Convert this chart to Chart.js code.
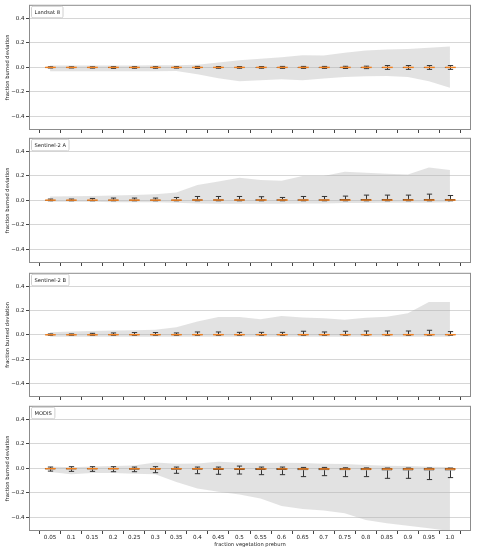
<!DOCTYPE html>
<html>
<head>
<meta charset="utf-8">
<script src="https://cdn.jsdelivr.net/npm/chart.js@4.4.0/dist/chart.umd.min.js"></script>
<style>
  body { margin: 0; background: #fff; }
  #wrap { position: relative; width: 477px; height: 550px; }
  #wrap canvas { position: absolute; left: 0; }
</style>
</head>
<body>
<div id="wrap"></div>
<script>
// categories on the x axis (box positions 1..20)
var categories = ['0.05', '0.1', '0.15', '0.2', '0.25', '0.3', '0.35', '0.4', '0.45', '0.5',
                  '0.55', '0.6', '0.65', '0.7', '0.75', '0.8', '0.85', '0.9', '0.95', '1.0'];
var positions = [1, 2, 3, 4, 5, 6, 7, 8, 9, 10, 11, 12, 13, 14, 15, 16, 17, 18, 19, 20];
var yTicks = [-0.4, -0.2, 0, 0.2, 0.4];

// Landsat 8
var l8Q1  = [-0.003,-0.003,-0.003,-0.004,-0.004,-0.003,-0.003,-0.004,-0.003,-0.003,-0.003,-0.003,-0.003,-0.003,-0.003,-0.004,-0.004,-0.004,-0.004,-0.004];
var l8Med = [0,0,0,0,0,0,0,0,0,0,0,0,0,0,0,0,0,0,0,0];
var l8Q3  = [0.003,0.003,0.003,0.004,0.004,0.003,0.003,0.004,0.003,0.003,0.003,0.003,0.003,0.003,0.003,0.004,0.004,0.004,0.004,0.004];
var l8Lo  = [-0.005,-0.005,-0.006,-0.008,-0.007,-0.007,-0.006,-0.009,-0.007,-0.007,-0.007,-0.008,-0.008,-0.008,-0.009,-0.01,-0.016,-0.016,-0.016,-0.016];
var l8Hi  = [0.005,0.005,0.005,0.006,0.006,0.006,0.006,0.008,0.007,0.007,0.007,0.008,0.008,0.008,0.009,0.01,0.015,0.015,0.015,0.015];
var l8Min = [-0.032,-0.032,-0.032,-0.032,-0.032,-0.032,-0.03,-0.056,-0.088,-0.113,-0.105,-0.097,-0.105,-0.09,-0.078,-0.073,-0.07,-0.078,-0.113,-0.165];
var l8Max = [0.016,0.016,0.016,0.016,0.016,0.017,0.018,0.022,0.04,0.058,0.07,0.083,0.1,0.097,0.12,0.137,0.145,0.15,0.16,0.17];

// Sentinel-2 A
var s2aQ1  = [-0.002,-0.002,-0.002,-0.002,-0.002,-0.002,-0.002,-0.002,-0.002,-0.002,-0.002,-0.002,-0.002,-0.002,-0.002,-0.002,-0.002,-0.002,-0.002,-0.002];
var s2aMed = [0.002,0.002,0.002,0.002,0.002,0.002,0.002,0.003,0.003,0.003,0.003,0.003,0.003,0.003,0.003,0.003,0.003,0.003,0.003,0.003];
var s2aQ3  = [0.006,0.006,0.006,0.007,0.007,0.007,0.008,0.01,0.01,0.01,0.01,0.01,0.01,0.01,0.011,0.012,0.012,0.012,0.012,0.012];
var s2aLo  = [-0.003,-0.003,-0.003,-0.003,-0.003,-0.003,-0.003,-0.003,-0.003,-0.003,-0.003,-0.003,-0.003,-0.003,-0.003,-0.003,-0.003,-0.003,-0.003,-0.003];
var s2aHi  = [0.011,0.011,0.016,0.019,0.019,0.019,0.024,0.032,0.032,0.032,0.03,0.024,0.032,0.032,0.035,0.043,0.043,0.043,0.051,0.04];
var s2aMin = [-0.01,-0.012,-0.012,-0.015,-0.015,-0.015,-0.02,-0.025,-0.028,-0.028,-0.028,-0.028,-0.025,-0.025,-0.022,-0.022,-0.02,-0.02,-0.02,-0.015];
var s2aMax = [0.032,0.033,0.035,0.04,0.045,0.05,0.065,0.125,0.153,0.185,0.167,0.161,0.199,0.199,0.234,0.226,0.218,0.212,0.269,0.247];

// Sentinel-2 B
var s2bQ1  = [-0.002,-0.002,-0.002,-0.002,-0.002,-0.002,-0.002,-0.002,-0.002,-0.002,-0.002,-0.002,-0.002,-0.002,-0.002,-0.002,-0.002,-0.002,-0.002,-0.002];
var s2bMed = [0.001,0.001,0.001,0.002,0.002,0.002,0.002,0.002,0.002,0.002,0.002,0.002,0.002,0.002,0.002,0.002,0.002,0.002,0.002,0.002];
var s2bQ3  = [0.004,0.004,0.004,0.005,0.005,0.005,0.005,0.006,0.006,0.006,0.006,0.006,0.006,0.006,0.006,0.006,0.006,0.006,0.006,0.006];
var s2bLo  = [-0.003,-0.003,-0.003,-0.003,-0.003,-0.003,-0.003,-0.003,-0.003,-0.003,-0.003,-0.003,-0.003,-0.003,-0.003,-0.003,-0.003,-0.003,-0.003,-0.003];
var s2bHi  = [0.008,0.008,0.013,0.016,0.019,0.019,0.016,0.024,0.024,0.021,0.021,0.021,0.03,0.024,0.03,0.032,0.032,0.032,0.038,0.027];
var s2bMin = [-0.015,-0.015,-0.015,-0.015,-0.015,-0.015,-0.015,-0.016,-0.016,-0.016,-0.016,-0.016,-0.016,-0.016,-0.016,-0.016,-0.016,-0.016,-0.016,-0.016];
var s2bMax = [0.022,0.027,0.032,0.036,0.038,0.043,0.062,0.11,0.148,0.146,0.129,0.156,0.142,0.137,0.124,0.14,0.15,0.177,0.271,0.271];

// MODIS
var modQ1  = [-0.008,-0.008,-0.009,-0.009,-0.01,-0.01,-0.011,-0.012,-0.013,-0.013,-0.014,-0.014,-0.015,-0.015,-0.016,-0.016,-0.017,-0.017,-0.018,-0.017];
var modMed = [-0.002,-0.002,-0.002,-0.002,-0.003,-0.003,-0.003,-0.003,-0.004,-0.004,-0.004,-0.004,-0.004,-0.004,-0.005,-0.005,-0.005,-0.005,-0.005,-0.005];
var modQ3  = [0.004,0.004,0.004,0.004,0.004,0.004,0.004,0.004,0.004,0.004,0.004,0.004,0.003,0.003,0.003,0.003,0.003,0.003,0.003,0.003];
var modLo  = [-0.022,-0.024,-0.024,-0.027,-0.027,-0.035,-0.04,-0.043,-0.048,-0.046,-0.051,-0.051,-0.067,-0.059,-0.067,-0.067,-0.081,-0.081,-0.091,-0.075];
var modHi  = [0.011,0.014,0.014,0.014,0.011,0.014,0.011,0.011,0.011,0.019,0.011,0.011,0.008,0.008,0.005,0.004,0.003,0.003,0.003,0.003];
var modMin = [-0.03,-0.048,-0.038,-0.038,-0.043,-0.048,-0.11,-0.164,-0.19,-0.212,-0.245,-0.306,-0.33,-0.344,-0.366,-0.42,-0.446,-0.468,-0.487,-0.51];
var modMax = [0.016,0.01,0.016,0.02,0.024,0.048,0.038,0.04,0.054,0.046,0.043,0.046,0.043,0.038,0.035,0.027,0.022,0.019,0.013,0.011];

var panels = [
  { label: 'Landsat 8',    q1: l8Q1,  med: l8Med,  q3: l8Q3,  lo: l8Lo,  hi: l8Hi,  min: l8Min,  max: l8Max },
  { label: 'Sentinel-2 A', q1: s2aQ1, med: s2aMed, q3: s2aQ3, lo: s2aLo, hi: s2aHi, min: s2aMin, max: s2aMax },
  { label: 'Sentinel-2 B', q1: s2bQ1, med: s2bMed, q3: s2bQ3, lo: s2bLo, hi: s2bHi, min: s2bMin, max: s2bMax },
  { label: 'MODIS',        q1: modQ1, med: modMed, q3: modQ3, lo: modLo, hi: modHi, min: modMin, max: modMax }
];

// canvas placement for the four stacked panels
var canvasTop = [0, 133, 268, 401];
var canvasHeight = [135, 135, 134, 149];

var FONT = '"DejaVu Sans", sans-serif';

// frame round the plot area
var framePlugin = {
  id: 'frame',
  afterDraw: function (chart) {
    var a = chart.chartArea, ctx = chart.ctx;
    ctx.save();
    ctx.strokeStyle = '#8c8c8c';
    ctx.lineWidth = 1;
    ctx.strokeRect(a.left + 0.5, a.top + 0.5, a.right - a.left - 1, a.bottom - a.top - 1);
    ctx.restore();
  }
};

// small text-only legend box in the top-left corner
var tagPlugin = {
  id: 'tag',
  afterDraw: function (chart, args, opts) {
    var a = chart.chartArea, ctx = chart.ctx;
    ctx.save();
    ctx.font = '5.2px ' + FONT;
    var w = ctx.measureText(opts.text).width;
    var x = a.left + 2.5, y = a.top + 1.5;
    ctx.fillStyle = 'rgba(255,255,255,0.85)';
    ctx.strokeStyle = '#d0d0d0';
    ctx.lineWidth = 1;
    ctx.beginPath();
    ctx.roundRect(x, y, w + 6, 11.5, 1.5);
    ctx.fill();
    ctx.stroke();
    ctx.fillStyle = '#222';
    ctx.textBaseline = 'middle';
    ctx.fillText(opts.text, x + 3, y + 6);
    ctx.restore();
  }
};

// whiskers, caps and medians on top of the box bars
var whiskerPlugin = {
  id: 'whiskers',
  afterDatasetsDraw: function (chart, args, opts) {
    var p = opts.panel;
    if (!p) return;
    var meta = chart.getDatasetMeta(2);
    var ys = chart.scales.y, ctx = chart.ctx;
    ctx.save();
    meta.data.forEach(function (bar, i) {
      var x = Math.round(bar.x) + 0.5, w = bar.width;
      var yLo = ys.getPixelForValue(p.lo[i]), yQ1 = ys.getPixelForValue(p.q1[i]);
      var yQ3 = ys.getPixelForValue(p.q3[i]), yHi = ys.getPixelForValue(p.hi[i]);
      ctx.strokeStyle = '#333';
      ctx.lineWidth = 1;
      ctx.beginPath();
      ctx.moveTo(x, yLo); ctx.lineTo(x, yQ1);
      ctx.moveTo(x, yQ3); ctx.lineTo(x, yHi);
      ctx.moveTo(x - w / 4, yLo); ctx.lineTo(x + w / 4, yLo);
      ctx.moveTo(x - w / 4, yHi); ctx.lineTo(x + w / 4, yHi);
      ctx.stroke();
      ctx.strokeStyle = '#f07f1e';
      ctx.lineWidth = 1.4;
      var yMed = ys.getPixelForValue(p.med[i]);
      ctx.beginPath();
      ctx.moveTo(x - w / 2, yMed); ctx.lineTo(x + w / 2, yMed);
      ctx.stroke();
    });
    ctx.restore();
  }
};

function minusFmt(v) {
  var s = v === 0 ? '0.0' : v.toFixed(1);
  return s.replace('-', '\u2212');
}

var wrap = document.getElementById('wrap');

panels.forEach(function (p, k) {
  var last = k === panels.length - 1;
  var canvas = document.createElement('canvas');
  canvas.width = 477;
  canvas.height = canvasHeight[k];
  canvas.style.width = '477px';
  canvas.style.height = canvasHeight[k] + 'px';
  canvas.style.top = canvasTop[k] + 'px';
  wrap.appendChild(canvas);

  new Chart(canvas, {
    type: 'bar',
    data: {
      datasets: [
        {
          type: 'line',
          data: positions.map(function (x, i) { return { x: x, y: p.max[i] }; }),
          borderWidth: 0,
          pointRadius: 0,
          tension: 0,
          fill: '+1',
          backgroundColor: 'rgba(175,175,175,0.36)',
          order: 3
        },
        {
          type: 'line',
          data: positions.map(function (x, i) { return { x: x, y: p.min[i] }; }),
          borderWidth: 0,
          pointRadius: 0,
          tension: 0,
          fill: false,
          order: 3
        },
        {
          type: 'bar',
          data: positions.map(function (x, i) { return { x: x, y: [p.q1[i], p.q3[i]] }; }),
          backgroundColor: 'rgba(232,150,90,0.55)',
          borderColor: '#2a2a2a',
          borderWidth: 1,
          borderSkipped: false,
          barPercentage: 0.5,
          categoryPercentage: 1.0,
          order: 1
        }
      ]
    },
    options: {
      responsive: false,
      animation: false,
      layout: { padding: { top: 4, right: 6, left: 0, bottom: 0 } },
      scales: {
        x: {
          type: 'linear',
          min: 0,
          max: 21,
          offset: false,
          afterBuildTicks: function (scale) {
            scale.ticks = positions.map(function (v) { return { value: v }; });
          },
          afterFit: function (scale) { scale.height = last ? 19 : 5; },
          ticks: {
            display: last,
            autoSkip: false,
            maxRotation: 0,
            padding: 0,
            color: '#1a1a1a',
            font: { family: FONT, size: 5.6 },
            callback: function (v) { return categories[v - 1]; }
          },
          grid: { drawOnChartArea: false, drawTicks: true, tickLength: 3, tickColor: '#444' },
          border: { display: false },
          title: {
            display: last,
            text: 'fraction vegetation preburn',
            color: '#222',
            padding: { top: 0, bottom: 2 },
            font: { family: FONT, size: 5.2 }
          }
        },
        y: {
          min: -0.51,
          max: 0.51,
          afterBuildTicks: function (scale) {
            scale.ticks = yTicks.map(function (v) { return { value: v }; });
          },
          afterFit: function (scale) { scale.width = 29; },
          ticks: {
            padding: 1.5,
            color: '#222',
            font: { family: FONT, size: 5.5 },
            callback: function (v) { return minusFmt(v); }
          },
          grid: { color: '#d6d6d6', lineWidth: 1, tickLength: 3, tickColor: '#444' },
          border: { display: false },
          title: {
            display: true,
            text: 'fraction burned deviation',
            color: '#222',
            padding: { top: 5, bottom: 0 },
            font: { family: FONT, size: 5.2 }
          }
        }
      },
      plugins: {
        legend: { display: false },
        tooltip: { enabled: false },
        tag: { text: p.label },
        whiskers: { panel: p }
      }
    },
    plugins: [framePlugin, tagPlugin, whiskerPlugin]
  });
});
</script>
</body>
</html>
